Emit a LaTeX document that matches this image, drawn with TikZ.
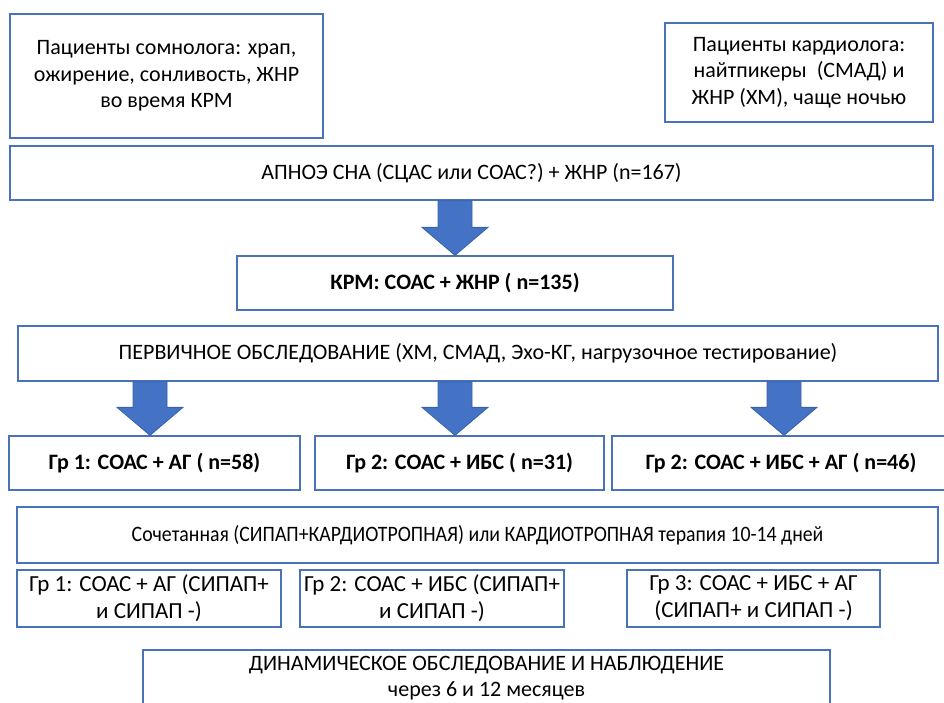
\documentclass[tikz,border=0pt]{standalone}
\usepackage{fontspec}
\setmainfont{Carlito}
\newfontfamily\condfont[FakeStretch=0.9]{Carlito}
\usetikzlibrary{calc}
\definecolor{bordc}{HTML}{4A72B8}
\definecolor{arrfill}{HTML}{4472C4}
\definecolor{arrline}{HTML}{3A62A8}
\tikzset{
  box/.style={draw=bordc, line width=1.3pt, fill=white, inner sep=2pt, align=center, font=\fontsize{22}{26.5}\selectfont},
  bbox/.style={box, font=\fontsize{22}{26.5}\selectfont\bfseries},
  sbox/.style={box, font=\fontsize{23}{27}\selectfont},
  blockarr/.style={fill=arrfill, draw=arrline, line width=0.8pt}
}
\newcommand{\blockarrow}[3]{%
  \path[blockarr] let \p1=(#2.south), \p2=(#3.north) in
    (#1-17,\y1) -- (#1+17,\y1) -- (#1+17,\y2+28) -- (#1+33,\y2+28) -- (#1,\y2)
    -- (#1-33,\y2+28) -- (#1-17,\y2+28) -- cycle;}
\begin{document}
\begin{tikzpicture}[x=1pt,y=-1pt]
\useasboundingbox (0,0) rectangle (944,702);
\clip (0,0) rectangle (944,702);
\fill[white] (0,0) rectangle (944,702);

\node[box, minimum width=313pt, minimum height=124pt] (b1) at (166.5,76)
  {Пациенты сомнолога: храп,\\ожирение, сонливость, ЖНР\\во время КРМ};
\node[box, minimum width=268pt, minimum height=99pt] (b2) at (799,72.5)
  {Пациенты кардиолога:\\найтпикеры~ (СМАД) и\\ЖНР (ХМ), чаще ночью};
\node[box, minimum width=923pt, minimum height=54pt] (b3) at (471.5,173)
  {АПНОЭ СНА (СЦАС или СОАС?) + ЖНР (n=167)};
\node[bbox, minimum width=436pt, minimum height=54pt] (b4) at (455,283)
  {КРМ: СОАС + ЖНР ( n=135)};
\node[box, minimum width=920pt, minimum height=55pt] (b5) at (478,353.5)
  {ПЕРВИЧНОЕ ОБСЛЕДОВАНИЕ (ХМ, СМАД, Эхо-КГ, нагрузочное тестирование)};
\node[bbox, minimum width=291pt, minimum height=54pt] (g1) at (154.5,463)
  {Гр 1: СОАС + АГ ( n=58)};
\node[bbox, minimum width=289pt, minimum height=54pt] (g2) at (459.5,463)
  {Гр 2: СОАС + ИБС ( n=31)};
\node[bbox, minimum width=338pt, minimum height=54pt] (g3) at (781,463)
  {Гр 2: СОАС + ИБС + АГ ( n=46)};
\node[box, minimum width=921pt, minimum height=56pt, font=\fontsize{22}{26.5}\condfont] (b6) at (477.5,535)
  {Сочетанная (СИПАП+КАРДИОТРОПНАЯ) или КАРДИОТРОПНАЯ терапия 10-14 дней};
\node[sbox, minimum width=264pt, minimum height=57pt] (s1) at (149,598.5)
  {Гр 1: СОАС + АГ (СИПАП+\\и СИПАП -)};
\node[sbox, minimum width=264pt, minimum height=57pt] (s2) at (432,598.5)
  {Гр 2: СОАС + ИБС (СИПАП+\\и СИПАП -)};
\node[sbox, minimum width=253pt, minimum height=57pt] (s3) at (753.5,598.5)
  {Гр 3: СОАС + ИБС + АГ\\(СИПАП+ и СИПАП -)};
\node[box, minimum width=687pt, minimum height=56pt] (b7) at (486.5,678)
  {ДИНАМИЧЕСКОЕ ОБСЛЕДОВАНИЕ И НАБЛЮДЕНИЕ\\через 6 и 12 месяцев};

\blockarrow{455}{b3}{b4}
\blockarrow{150}{b5}{g1}
\blockarrow{455}{b5}{g2}
\blockarrow{784}{b5}{g3}
\end{tikzpicture}
\end{document}
